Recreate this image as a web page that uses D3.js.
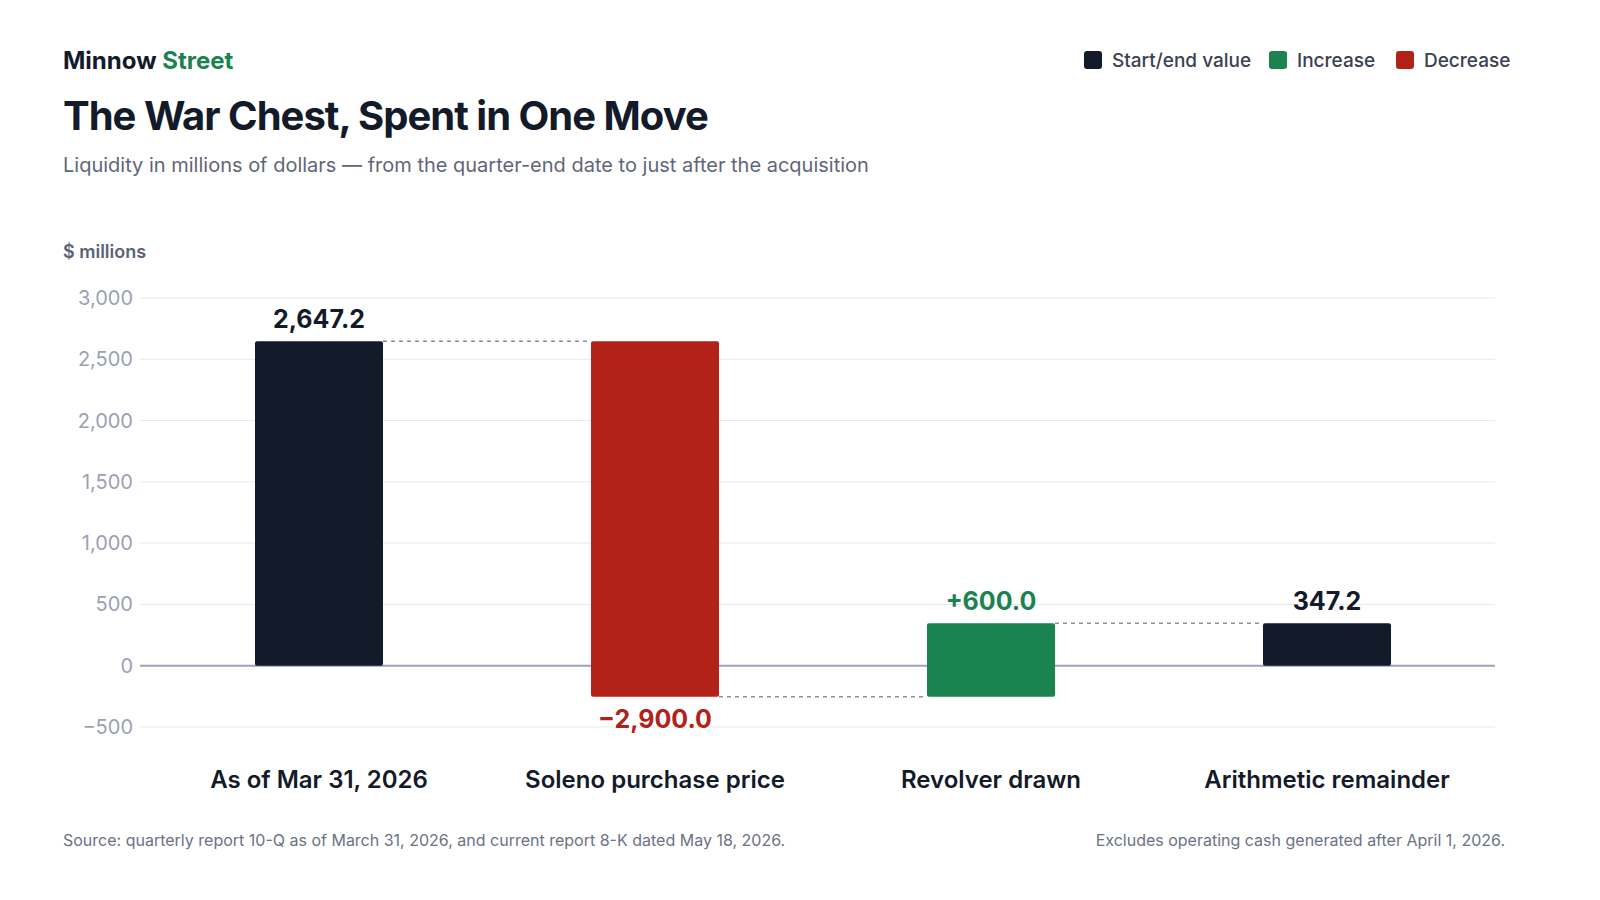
<!DOCTYPE html>
<html><head><meta charset="utf-8">
<script src="https://cdn.jsdelivr.net/npm/d3@7"></script>
<style>body{margin:0;background:#fff;font-family:Inter,"Noto Sans",sans-serif}</style>
</head><body><div id="chart"></div>
<script>
// data
const categories = ["As of Mar 31, 2026", "Soleno purchase price", "Revolver drawn", "Arithmetic remainder"];
const deltas = [2647.2, -2900.0, 600.0, 347.2];
const kinds = ["total", "decrease", "increase", "total"];
const labels = ["2,647.2", "\u22122,900.0", "+600.0", "347.2"];
const yTicks = [-500, 0, 500, 1000, 1500, 2000, 2500, 3000];

const colors = {total: "#131a29", increase: "#1b834f", decrease: "#b22218"};
const labelColors = {total: "#131a29", increase: "#1b834f", decrease: "#b22218"};

const W = 1600, H = 900;
const svg = d3.select("#chart").append("svg").attr("width", W).attr("height", H);

// running totals -> bar extents
let run = 0;
const bars = categories.map((c, i) => {
  let lo, hi;
  if (kinds[i] === "total") { lo = 0; hi = deltas[i]; run = deltas[i]; }
  else { const s = run; run = run + deltas[i]; lo = Math.min(s, run); hi = Math.max(s, run); }
  return {c, lo, hi, end: run, kind: kinds[i], label: labels[i]};
});

const x = d3.scaleBand().domain(categories).range([151, 1495]).paddingInner(0.619).paddingOuter(0.3095);
const y = d3.scaleLinear().domain([-500, 3000]).range([727, 298]);
const fmt = d3.format(",");

// grid
svg.append("g").selectAll("line").data(yTicks).join("line")
  .attr("x1", 140).attr("x2", 1495).attr("y1", d => y(d)).attr("y2", d => y(d))
  .attr("stroke", d => d === 0 ? "#9ea3b8" : "#e8e9ec").attr("stroke-width", d => d === 0 ? 2 : 1);
svg.append("g").selectAll("text").data(yTicks).join("text")
  .attr("x", 133).attr("y", d => y(d)).attr("dy", "0.35em").attr("text-anchor", "end")
  .attr("font-size", 20).attr("fill", "#9ba1b3")
  .text(d => d < 0 ? "\u2212" + fmt(-d) : fmt(d));
svg.append("text").attr("x", 63).attr("y", 258).attr("font-size", 18).attr("font-weight", 600)
  .attr("fill", "#5a6275").text("$ millions");

// connectors
bars.slice(0, -1).forEach((b, i) => {
  svg.append("line")
    .attr("x1", x(b.c) + x.bandwidth()).attr("x2", x(categories[i + 1]))
    .attr("y1", y(b.end)).attr("y2", y(b.end))
    .attr("stroke", "#8c90a0").attr("stroke-width", 1.5).attr("stroke-dasharray", "4,4");
});

// bars
svg.append("g").selectAll("rect").data(bars).join("rect")
  .attr("x", d => x(d.c)).attr("width", x.bandwidth())
  .attr("y", d => y(d.hi)).attr("height", d => y(d.lo) - y(d.hi))
  .attr("rx", 2).attr("fill", d => colors[d.kind]);

// value labels
svg.append("g").selectAll("text").data(bars).join("text")
  .attr("x", d => x(d.c) + x.bandwidth() / 2)
  .attr("y", d => d.kind === "decrease" ? y(d.lo) + 31 : y(d.hi) - 13)
  .attr("text-anchor", "middle").attr("font-size", 25).attr("font-weight", 700)
  .attr("fill", d => labelColors[d.kind]).text(d => d.label);

// category labels
svg.append("g").selectAll("text").data(categories).join("text")
  .attr("x", d => x(d) + x.bandwidth() / 2).attr("y", 788).attr("text-anchor", "middle")
  .attr("font-size", 24).attr("font-weight", 600).attr("fill", "#131a29").text(d => d);

// header
const brand = svg.append("text").attr("x", 63).attr("y", 69).attr("font-size", 24).attr("font-weight", 700).attr("fill", "#131a29");
brand.append("tspan").text("Minnow ");
brand.append("tspan").attr("fill", "#1b834f").text("Street");
svg.append("text").attr("x", 63).attr("y", 130).attr("font-size", 40).attr("font-weight", 700)
  .attr("letter-spacing", -1).attr("fill", "#131a29").text("The War Chest, Spent in One Move");
svg.append("text").attr("x", 63).attr("y", 172).attr("font-size", 20).attr("fill", "#5f6679")
  .text("Liquidity in millions of dollars \u2014 from the quarter-end date to just after the acquisition");

// legend
const legend = [["Start/end value", colors.total, 1084], ["Increase", colors.increase, 1269], ["Decrease", colors.decrease, 1396]];
legend.forEach(([t, c, lx]) => {
  svg.append("rect").attr("x", lx).attr("y", 51).attr("width", 18).attr("height", 18).attr("rx", 3).attr("fill", c);
  svg.append("text").attr("x", lx + 28).attr("y", 67).attr("font-size", 19).attr("font-weight", 500)
    .attr("fill", "#3a4152").text(t);
});

// footer
svg.append("text").attr("x", 63).attr("y", 846).attr("font-size", 16).attr("fill", "#6b7285")
  .text("Source: quarterly report 10-Q as of March 31, 2026, and current report 8-K dated May 18, 2026.");
svg.append("text").attr("x", 1505).attr("y", 846).attr("text-anchor", "end").attr("font-size", 16).attr("fill", "#6b7285")
  .text("Excludes operating cash generated after April 1, 2026.");
</script></body></html>
